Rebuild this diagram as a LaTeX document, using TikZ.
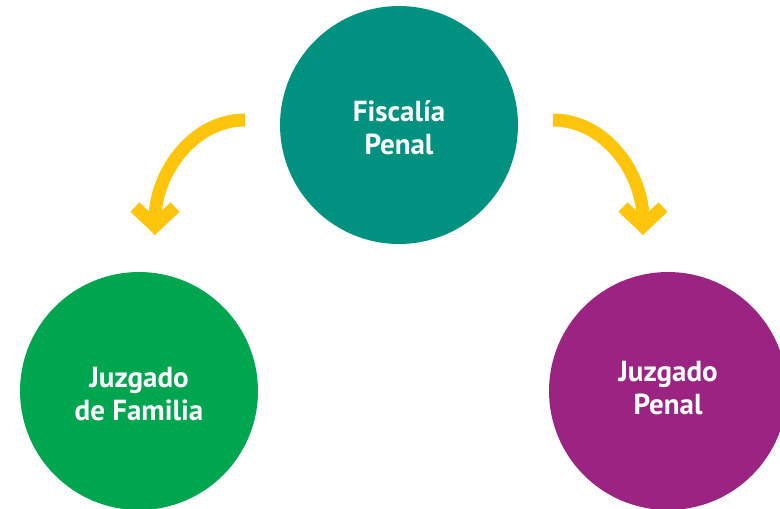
\documentclass[tikz,border=0pt]{standalone}
\usepackage{fontspec}
\setmainfont{PT Sans}
\usetikzlibrary{arrows.meta, positioning, calc}
\definecolor{verdeazul}{RGB}{0,145,128}
\definecolor{verde}{RGB}{0,165,80}
\definecolor{morado}{RGB}{155,36,130}
\definecolor{amarillo}{RGB}{255,197,12}

\tikzset{
  circulo/.style={circle, minimum size=4.76cm, inner sep=0pt, text=white, align=center,
    font=\bfseries\fontsize{16.5}{18.5}\selectfont},
  flecha/.style={amarillo, line width=0.26cm, -{Straight Barb[length=0.38cm, width=0.8cm]}}
}

\begin{document}
\begin{tikzpicture}[x=0.02cm, y=-0.02cm]
      \useasboundingbox (0, 0) rectangle (780, 508);

      \node[circulo, fill=verdeazul] (fiscalia) at (399, 125) {};
      \node[circulo, fill=verde] (familia) at (139, 391) {};
      \node[circulo, fill=morado] (penal) at (668, 391) {};

      % textos
      \node[circulo, fill=none] (tfiscalia) at ($(fiscalia) + (0, 3)$) {Fiscalía\\Penal};
      \node[circulo, fill=none] (tfamilia) at ($(familia) + (0, 3)$) {Juzgado\\de Familia};
      \node[circulo, fill=none] (tpenal) at ($(penal) + (0, -3)$) {Juzgado\\Penal};

      \coordinate (izqA) at ($(fiscalia) + (-154, -5)$);
      \coordinate (izqB) at ($(familia) + (16, -156)$);
      \coordinate (derA) at ($(fiscalia) + (154, -5)$);
      \coordinate (derB) at ($(penal) + (-25, -156)$);

      \draw[flecha] (izqA) .. controls +(-52, 0) and +(0, -62) .. (izqB);
      \draw[flecha] (derA) .. controls +(52, 0) and +(0, -62) .. (derB);
\end{tikzpicture}
\end{document}
